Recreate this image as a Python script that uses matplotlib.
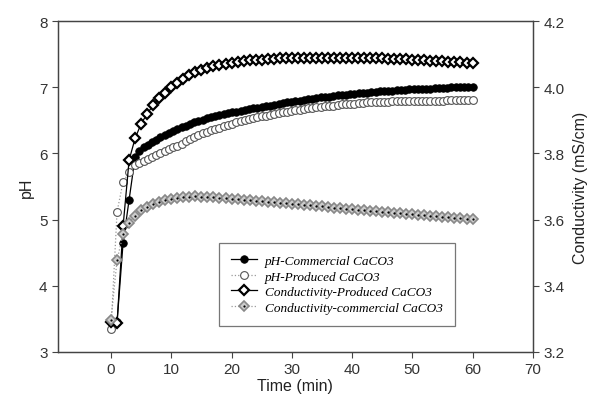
import matplotlib
matplotlib.use("Agg")
import matplotlib.pyplot as plt
import numpy as np
from matplotlib.legend_handler import HandlerTuple

# pH readings: 1 min steps at the start, then every 0.7 min
t_ph = np.concatenate([[0, 1, 2, 3], np.round(np.arange(4.0, 60.01, 0.7), 1)])

ph_commercial = [3.45, 3.45, 4.65, 5.30,
                 5.95, 6.03, 6.09, 6.13, 6.18, 6.21, 6.25, 6.28, 6.31, 6.34,
                 6.37, 6.40, 6.42, 6.45, 6.47, 6.49, 6.51, 6.53, 6.55, 6.56,
                 6.58, 6.59, 6.61, 6.62, 6.63, 6.64, 6.66, 6.67, 6.68, 6.69,
                 6.70, 6.71, 6.72, 6.73, 6.74, 6.76, 6.77, 6.78, 6.79, 6.80,
                 6.81, 6.82, 6.83, 6.84, 6.85, 6.85, 6.86, 6.87, 6.88, 6.88,
                 6.89, 6.90, 6.90, 6.91, 6.92, 6.92, 6.93, 6.93, 6.94, 6.94,
                 6.95, 6.95, 6.96, 6.96, 6.96, 6.97, 6.97, 6.97, 6.98, 6.98,
                 6.98, 6.99, 6.99, 6.99, 6.99, 7.00, 7.00, 7.00, 7.00, 7.01,
                 7.01]

ph_produced = [3.35, 5.12, 5.57, 5.72,
               5.82, 5.86, 5.89, 5.92, 5.95, 5.98, 6.01, 6.04, 6.06, 6.09,
               6.12, 6.15, 6.19, 6.22, 6.25, 6.28, 6.31, 6.33, 6.35, 6.37,
               6.39, 6.41, 6.43, 6.45, 6.47, 6.49, 6.50, 6.52, 6.53, 6.55,
               6.56, 6.57, 6.58, 6.60, 6.61, 6.62, 6.63, 6.64, 6.65, 6.66,
               6.67, 6.68, 6.69, 6.70, 6.70, 6.71, 6.72, 6.72, 6.73, 6.74,
               6.74, 6.75, 6.75, 6.76, 6.76, 6.77, 6.77, 6.77, 6.78, 6.78,
               6.78, 6.79, 6.79, 6.79, 6.79, 6.79, 6.80, 6.80, 6.80, 6.80,
               6.80, 6.80, 6.80, 6.80, 6.81, 6.81, 6.81, 6.81, 6.81, 6.81,
               6.81]

# conductivity readings every minute
t_cond = np.arange(0, 61)

cond_produced = [3.290, 3.288, 3.580, 3.780, 3.846, 3.890, 3.920, 3.946, 3.968, 3.984,
                 4.000, 4.014, 4.026, 4.036, 4.046, 4.052, 4.058, 4.063, 4.067, 4.071,
                 4.074, 4.077, 4.079, 4.081, 4.082, 4.083, 4.085, 4.086, 4.087, 4.088,
                 4.089, 4.089, 4.090, 4.089, 4.090, 4.089, 4.090, 4.089, 4.089, 4.090,
                 4.089, 4.088, 4.089, 4.088, 4.088, 4.087, 4.086, 4.086, 4.085, 4.084,
                 4.083, 4.082, 4.081, 4.080, 4.079, 4.078, 4.077, 4.076, 4.075, 4.074,
                 4.072]

cond_commercial = [3.298, 3.478, 3.556, 3.590, 3.612, 3.628, 3.638, 3.646, 3.654, 3.660,
                   3.663, 3.666, 3.668, 3.669, 3.670, 3.669, 3.668, 3.667, 3.665, 3.664,
                   3.662, 3.661, 3.659, 3.658, 3.656, 3.655, 3.653, 3.652, 3.650, 3.649,
                   3.647, 3.646, 3.644, 3.643, 3.641, 3.640, 3.638, 3.636, 3.635, 3.633,
                   3.632, 3.630, 3.629, 3.627, 3.626, 3.624, 3.623, 3.621, 3.620, 3.618,
                   3.617, 3.615, 3.614, 3.612, 3.611, 3.609, 3.608, 3.606, 3.605, 3.603,
                   3.602]

labels = ['pH-Commercial CaCO3', 'pH-Produced CaCO3',
          'Conductivity-Produced CaCO3', 'Conductivity-commercial CaCO3']

plt.rcParams['font.family'] = ['Liberation Sans', 'DejaVu Sans']
axis_col = '#444444'

fig = plt.figure(figsize=(5.92, 4.02), dpi=100)
ax = fig.add_axes([0.098, 0.122, 0.802, 0.823])
ax2 = ax.twinx()

l1, = ax.plot(t_ph, ph_commercial, '-', color='black', lw=0.9, marker='o', ms=5.4,
              mfc='black', mec='black', mew=0.6)
l2, = ax.plot(t_ph, ph_produced, ':', color='#999999', lw=0.9, marker='o', ms=5.6,
              mfc='white', mec='#555555', mew=0.8)

l3, = ax2.plot(t_cond, cond_produced, '-', color='black', lw=0.9, marker='D', ms=5.0,
               mfc='white', mec='black', mew=1.6)
l4, = ax2.plot(t_cond, cond_commercial, ':', color='#999999', lw=0.9, marker='D', ms=5.0,
               mfc='#cccccc', mec='#888888', mew=1.2)
l4dot, = ax2.plot(t_cond, cond_commercial, 'o', color='black', ms=1.6, mew=0)

ax.set_xlim(-8.8, 70)
ax.set_ylim(3, 8)
ax2.set_ylim(3.2, 4.2)
ax.set_xticks([0, 10, 20, 30, 40, 50, 60, 70])
ax.set_yticks([3, 4, 5, 6, 7, 8])
ax2.set_yticks([3.2, 3.4, 3.6, 3.8, 4.0, 4.2])
ax2.set_yticklabels(['3.2', '3.4', '3.6', '3.8', '4.0', '4.2'])

for a in (ax, ax2):
    for s in a.spines.values():
        s.set_color(axis_col)
        s.set_linewidth(0.9)
    a.tick_params(direction='out', length=4, width=0.8, colors=axis_col,
                  labelsize=11, labelcolor='#333333')

ax.set_xlabel('Time (min)', fontsize=11.5, color='#222222', labelpad=1)
ax.set_ylabel('pH', fontsize=11.5, color='#222222', labelpad=4)
ax2.set_ylabel('Conductivity (mS/cm)', fontsize=11.5, color='#222222', labelpad=6)

leg = ax2.legend([l1, l2, l3, (l4, l4dot)], labels,
                 handler_map={tuple: HandlerTuple(ndivide=1, pad=0)},
                 loc='lower left', bbox_to_anchor=(0.325, 0.06),
                 prop={'family': 'Liberation Serif', 'style': 'italic', 'size': 9.5},
                 frameon=True, fancybox=False, edgecolor='#555555',
                 handlelength=2.0, handletextpad=0.6, labelspacing=0.25,
                 borderpad=0.9)
leg.get_frame().set_linewidth(0.9)

fig.savefig('out.png', dpi=100)
